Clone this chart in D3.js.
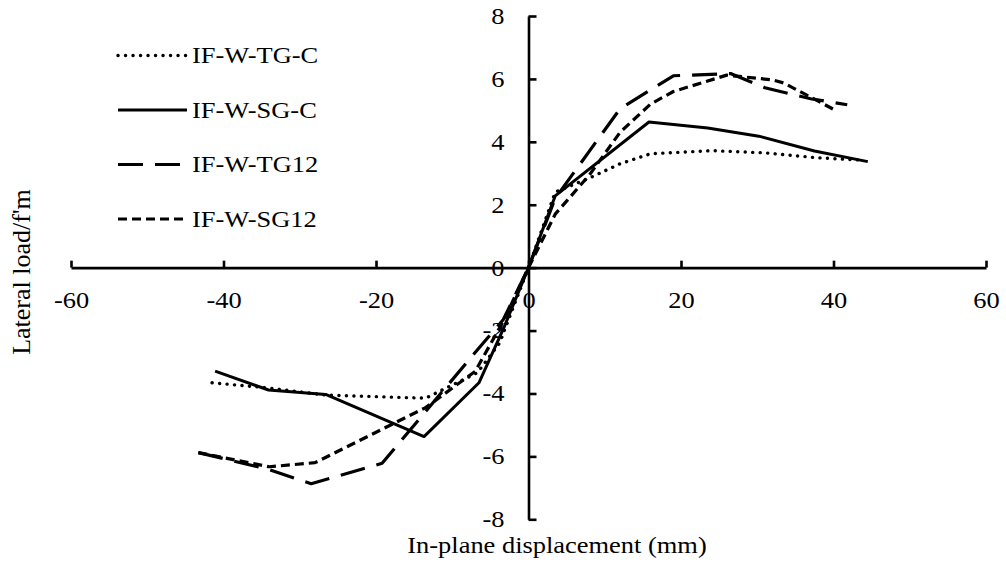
<!DOCTYPE html>
<html>
<head>
<meta charset="utf-8">
<script src="https://cdn.jsdelivr.net/npm/d3@7/dist/d3.min.js"></script>
<style>
  html, body { margin: 0; padding: 0; background: #fff; }
  svg { display: block; }
  text { font-family: "Liberation Serif", "Times New Roman", serif; fill: #000; }
</style>
</head>
<body>
<svg id="chart" width="1006" height="564"></svg>
<script>
// Lateral load vs in-plane displacement for four wall specimens
const seriesNames = ["IF-W-TG-C", "IF-W-SG-C", "IF-W-TG12", "IF-W-SG12"];

const tgcX = [-41.5, -34.3, -26.6, -13.5, -6.7, -3.8, 0, 3.5, 8, 12, 16, 24, 31, 37.5, 43.5];
const tgcY = [-3.66, -3.82, -4.05, -4.15, -3.34, -2.4, 0, 2.4, 2.85, 3.3, 3.62, 3.72, 3.65, 3.5, 3.42];

const sgcX = [-41.1, -34.1, -26.6, -13.7, -6.5, -3.3, 0, 3.5, 15.8, 23.5, 30.2, 37.5, 44.5];
const sgcY = [-3.29, -3.89, -4.03, -5.37, -3.66, -1.95, 0, 2.28, 4.63, 4.44, 4.18, 3.71, 3.37];

const tg12X = [-43.3, -34.3, -28.5, -19.2, -7, -3.3, 0, 3.5, 12, 19, 26.5, 31, 37, 41.8];
const tg12Y = [-5.88, -6.4, -6.87, -6.22, -2.7, -1.65, 0, 2.2, 5.05, 6.1, 6.17, 5.72, 5.37, 5.18];

const sg12X = [-43.3, -34, -28, -13.5, -7, -3.3, 0, 3.5, 8, 12, 16, 19, 26, 32, 33.5, 40.5];
const sg12Y = [-5.88, -6.33, -6.2, -4.45, -3.3, -1.7, 0, 1.7, 2.95, 4.3, 5.2, 5.6, 6.12, 5.97, 5.87, 4.97];

const xTicks = [-60, -40, -20, 0, 20, 40, 60];
const yTicks = [-8, -6, -4, -2, 0, 2, 4, 6, 8];

const xTitle = "In-plane displacement (mm)";
const yTitle = "Lateral load/f'm";

// Line styles per series
const styles = [
  { dash: "0.1,7.4", cap: "round", width: 3.4 },
  { dash: null, cap: "butt", width: 3 },
  { dash: "25,12", cap: "butt", width: 3.2 },
  { dash: "9,5", cap: "butt", width: 3.2 }
];

const series = [
  { name: seriesNames[0], xs: tgcX, ys: tgcY },
  { name: seriesNames[1], xs: sgcX, ys: sgcY },
  { name: seriesNames[2], xs: tg12X, ys: tg12Y },
  { name: seriesNames[3], xs: sg12X, ys: sg12Y }
].map((s, i) => ({ ...s, style: styles[i], pts: s.xs.map((x, j) => [x, s.ys[j]]) }));

const svg = d3.select("#chart");
const FS = 23, SX = 1.15;
const plainNum = d => String(d);   // keep the ASCII hyphen for negatives

const x = d3.scaleLinear().domain([-60, 60]).range([71, 986]);
const y = d3.scaleLinear().domain([-8, 8]).range([519.3, 16]);

// x axis through y = 0, ticks pointing up
const gx = svg.append("g")
  .attr("transform", `translate(0,${y(0)})`)
  .call(d3.axisBottom(x).tickValues(xTicks).tickFormat(plainNum)
    .tickSizeInner(-7).tickSizeOuter(0).tickPadding(24));
gx.select(".domain").attr("stroke", "#000").attr("stroke-width", 2.6);
gx.selectAll(".tick line").attr("stroke", "#000").attr("stroke-width", 2.6);
gx.selectAll(".tick text")
  .attr("font-size", FS)
  .attr("transform", `scale(${SX},1)`);

// y axis through x = 0, ticks pointing right
const gy = svg.append("g")
  .attr("transform", `translate(${x(0)},0)`)
  .call(d3.axisLeft(y).tickValues(yTicks).tickFormat(plainNum)
    .tickSizeInner(-8).tickSizeOuter(0).tickPadding(24));
gy.select(".domain").attr("stroke", "#000").attr("stroke-width", 2.6);
gy.selectAll(".tick line").attr("stroke", "#000").attr("stroke-width", 2.6);
gy.selectAll(".tick text")
  .attr("font-size", FS)
  .attr("x", -24 / SX)
  .attr("transform", `scale(${SX},1)`);

// Curves
const line = d3.line().x(d => x(d[0])).y(d => y(d[1]));
svg.append("g").selectAll("path")
  .data(series)
  .join("path")
  .attr("d", d => line(d.pts))
  .attr("fill", "none")
  .attr("stroke", "#000")
  .attr("stroke-width", d => d.style.width)
  .attr("stroke-linecap", d => d.style.cap)
  .attr("stroke-linejoin", "round")
  .attr("stroke-dasharray", d => d.style.dash);

// Legend
const legend = svg.append("g");
const rowY = d3.scaleLinear().domain([0, 3]).range([55.5, 219]);
series.forEach((s, i) => {
  const cy = rowY(i);
  legend.append("line")
    .attr("x1", 118).attr("x2", 187)
    .attr("y1", cy).attr("y2", cy)
    .attr("stroke", "#000")
    .attr("stroke-width", s.style.width)
    .attr("stroke-linecap", s.style.cap)
    .attr("stroke-dasharray", s.style.dash);
  legend.append("text")
    .attr("transform", `translate(192,${cy + 7.6}) scale(${SX},1)`)
    .attr("font-size", FS)
    .text(s.name);
});

// Axis titles
svg.append("text")
  .attr("transform", `translate(557,553) scale(${SX},1)`)
  .attr("text-anchor", "middle")
  .attr("font-size", FS)
  .text(xTitle);

svg.append("text")
  .attr("transform", "translate(30,272) rotate(-90)")
  .attr("text-anchor", "middle")
  .attr("font-size", 26)
  .text(yTitle);
</script>
</body>
</html>
